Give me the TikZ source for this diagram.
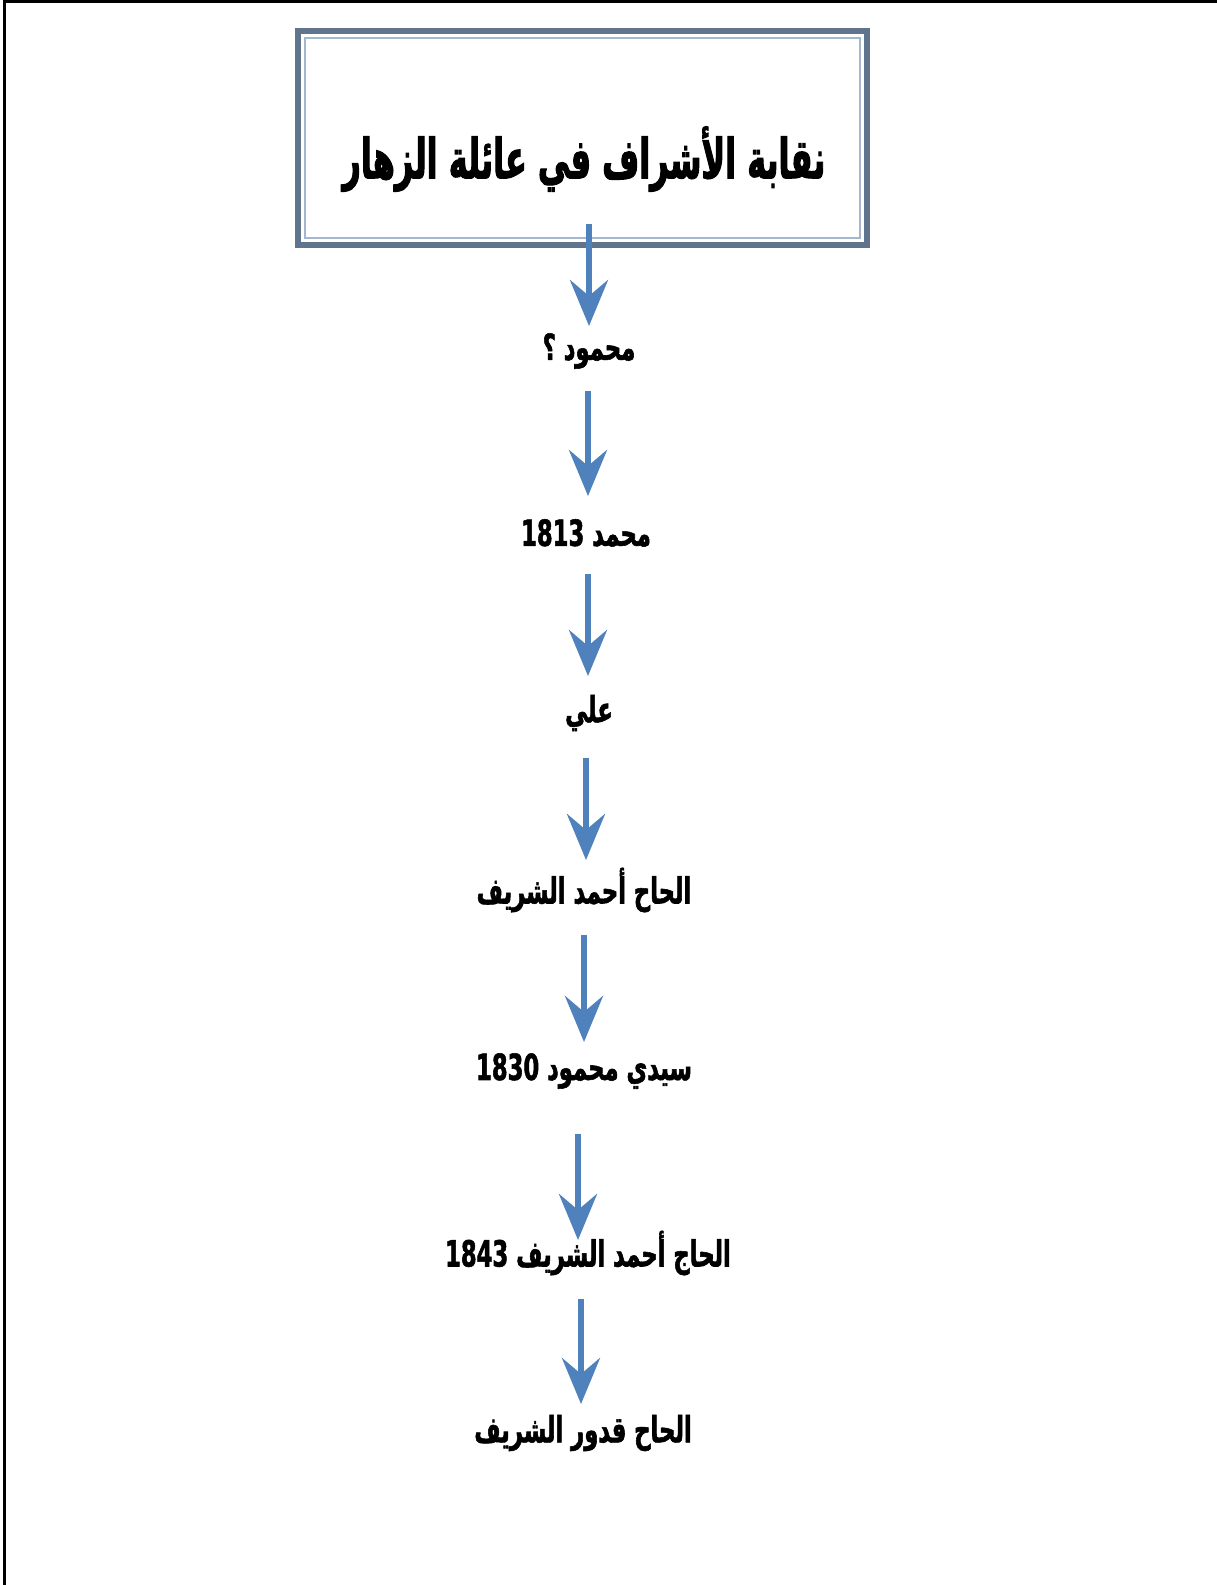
\documentclass[tikz,border=0pt]{standalone}
\usepackage{fontspec}
\usetikzlibrary{arrows.meta}
\newfontfamily\arabicfont[Script=Arabic, FakeStretch=0.63, FakeBold=1.5]{DejaVu Sans}
\newfontfamily\arabictitle[Script=Arabic, FakeStretch=0.58, FakeBold=1.8]{DejaVu Sans}
\TeXXeTstate=1
\definecolor{arrowblue}{RGB}{79,129,189}
\definecolor{boxouter}{RGB}{96,116,142}
\definecolor{boxinner}{RGB}{165,183,206}
\tikzset{
  label/.style={font=\arabicfont\bfseries\fontsize{36}{42}\selectfont, inner sep=0pt},
  titletext/.style={font=\arabictitle\bfseries\fontsize{55}{64}\selectfont, inner sep=0pt},
  flow/.style={draw=arrowblue, line width=6pt,
    -{Stealth[length=46pt, width=38pt, inset=16pt, fill=arrowblue]}},
}
\begin{document}
\begin{tikzpicture}[x=1pt, y=-1pt]
\useasboundingbox (0,0) rectangle (1217,1585);
\fill[white] (0,0) rectangle (1217,1585);
% page border (left and top only)
\draw[line width=3pt] (4,1585) -- (4,1.5) -- (1217,1.5);
% title box
\draw[boxouter, line width=6pt] (298,31) rectangle (867,245);
\draw[boxinner, line width=2pt] (305,38) rectangle (860,238);
\node[titletext] (title) at (584,159) {\beginR نقابة الأشراف في عائلة الزهار\endR};
% labels
\node[label] (n1) at (589,351) {\beginR محمود ؟\endR};
\node[label] (n2) at (586,533) {\beginR محمد \beginL1813\endL\endR};
\node[label] (n3) at (589,713) {\beginR علي\endR};
\node[label] (n4) at (584,890) {\beginR الحاح أحمد الشريف\endR};
\node[label] (n5) at (584,1071) {\beginR سيدي محمود \beginL1830\endL\endR};
\node[label] (n6) at (588,1253) {\beginR الحاج أحمد الشريف \beginL1843\endL\endR};
\node[label] (n7) at (583,1433) {\beginR الحاح قدور الشريف\endR};
% arrow ends
\coordinate (a1s) at (589,224); \coordinate (a1e) at (589,326);
\coordinate (a2s) at (588,391); \coordinate (a2e) at (588,496);
\coordinate (a3s) at (588,574); \coordinate (a3e) at (588,676);
\coordinate (a4s) at (586,758); \coordinate (a4e) at (586,860);
\coordinate (a5s) at (584,935); \coordinate (a5e) at (584,1042);
\coordinate (a6s) at (578,1134); \coordinate (a6e) at (578,1240);
\coordinate (a7s) at (581,1299); \coordinate (a7e) at (581,1404);
\draw[flow] (a1s) -- (a1e);
\draw[flow] (a2s) -- (a2e);
\draw[flow] (a3s) -- (a3e);
\draw[flow] (a4s) -- (a4e);
\draw[flow] (a5s) -- (a5e);
\draw[flow] (a6s) -- (a6e);
\draw[flow] (a7s) -- (a7e);
\end{tikzpicture}
\end{document}
